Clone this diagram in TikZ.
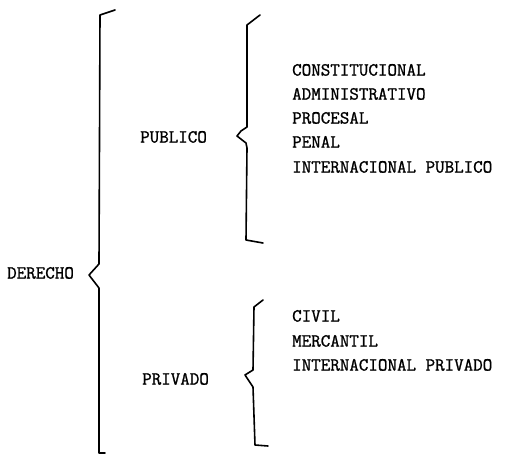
\documentclass[tikz,border=0pt]{standalone}
\usepackage{fontspec}
\setmainfont{Latin Modern Mono}[FakeBold=1.2]
\tikzset{
  lbl/.style={anchor=base west, inner sep=0pt, font=\fontsize{18.5}{22}\selectfont},
  brace/.style={line width=1.6pt, line join=round, line cap=round}
}
\begin{document}
\begin{tikzpicture}[x=1pt,y=-1pt]
\useasboundingbox (0,0) rectangle (507,455);
% labels (base = centre + 5.6)
\node[lbl] (derecho) at (7,278.6) {DERECHO};
\node[lbl] (publico) at (140,142.6) {PUBLICO};
\node[lbl] (privado) at (142,384.6) {PRIVADO};
\node[lbl] (const) at (292,75.6) {CONSTITUCIONAL};
\node[lbl] (admin) at (292,99.6) {ADMINISTRATIVO};
\node[lbl] (proc) at (292,123.6) {PROCESAL};
\node[lbl] (penal) at (292,147.6) {PENAL};
\node[lbl] (intpub) at (292,172.6) {INTERNACIONAL PUBLICO};
\node[lbl] (civil) at (292,321.6) {CIVIL};
\node[lbl] (merc) at (292,346.6) {MERCANTIL};
\node[lbl] (intpriv) at (292,370.6) {INTERNACIONAL PRIVADO};
% braces
\draw[brace] (115,10) -- (100,15) -- (99,264) -- (89,275) -- (99,288) -- (99,453) -- (105,453);
\draw[brace] (260,15) -- (247,25) -- (247,127) -- (241,131) -- (237,136) -- (246,143) -- (247,148) -- (246,240) -- (263,243);
\draw[brace] (263,300) -- (254,307) -- (253,370) -- (245,375) -- (253,387) -- (255,445) -- (268,446);
\end{tikzpicture}
\end{document}
